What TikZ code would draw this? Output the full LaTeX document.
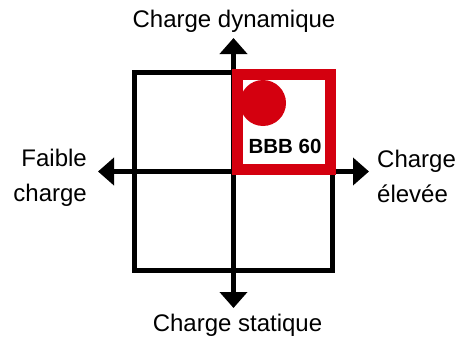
\documentclass[tikz,border=0pt]{standalone}
\usepackage{fontspec}
\setmainfont{Liberation Sans}
\usetikzlibrary{arrows.meta}
\definecolor{bbbred}{RGB}{212,0,15}
\begin{document}
\begin{tikzpicture}[x=1pt,y=-1pt,
  gridline/.style={line width=5pt},
  axis/.style={line width=5pt,-{Triangle[length=16pt,width=27pt]}},
  lbl/.style={font=\fontsize{24}{35}\selectfont, inner sep=0pt},
  redframe/.style={draw=bbbred, fill=white, line width=11pt},
]
\useasboundingbox (0,0) rectangle (457,337);
% grid
\draw[gridline] (134.5,72.5) rectangle (332.5,270.5);
% axes
\coordinate (c) at (233.5,171.5);
\coordinate (l) at (98,171.5);
\coordinate (r) at (369,171.5);
\coordinate (t) at (233.5,38);
\coordinate (b) at (233.5,308);
\draw[axis] (c) -- (l);
\draw[axis] (c) -- (r);
\draw[axis] (c) -- (t);
\draw[axis] (c) -- (b);
% red quadrant
\draw[redframe] (237.5,74.5) rectangle (330.5,169.5);
\fill[bbbred] (263,103) circle (23);
\node[inner sep=0pt, font=\bfseries\fontsize{20.5}{24}\selectfont] (bbb) at (285,146.3) {BBB 60};
% labels
\node[lbl, anchor=base] (dyn) at (234,28) {Charge dynamique};
\node[lbl, anchor=base] (stat) at (237.5,331) {Charge statique};
\node[lbl, align=right, anchor=north east] (faible) at (87,148.5) {Faible\\charge};
\node[lbl, align=left, anchor=north west] (elevee) at (377,149.5) {Charge\\élevée};
\end{tikzpicture}
\end{document}
